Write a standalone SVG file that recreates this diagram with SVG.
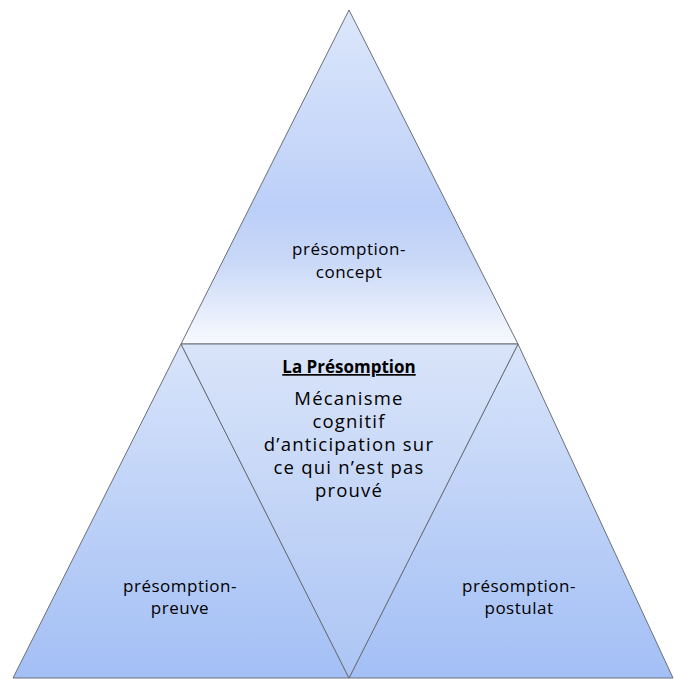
<svg xmlns="http://www.w3.org/2000/svg" width="674" height="679" viewBox="0 0 674 679">
<style>
.tri{stroke:#6a6f78;stroke-width:1;stroke-linejoin:miter}
.t{font-family:"Open Sans","Liberation Sans",sans-serif;font-size:17px;fill:#000;text-anchor:middle;letter-spacing:0.5px}
.m{font-size:18.5px;letter-spacing:1.2px}
.h{font-weight:bold;text-decoration:underline;letter-spacing:0}
</style>
<defs>
<linearGradient id="gTop" x1="0" y1="10" x2="0" y2="344" gradientUnits="userSpaceOnUse">
<stop offset="0" stop-color="#dce7fb"/>
<stop offset="0.6" stop-color="#bccff8"/>
<stop offset="0.75" stop-color="#c9d8f8"/>
<stop offset="1" stop-color="#f8fafe"/>
</linearGradient>
<linearGradient id="gBot" x1="0" y1="344" x2="0" y2="678" gradientUnits="userSpaceOnUse">
<stop offset="0" stop-color="#d8e4fa"/>
<stop offset="1" stop-color="#a3bff5"/>
</linearGradient>
<linearGradient id="gMid" x1="0" y1="344" x2="0" y2="678" gradientUnits="userSpaceOnUse">
<stop offset="0" stop-color="#d9e4f9"/>
<stop offset="1" stop-color="#acc5f4"/>
</linearGradient>
</defs>
<g id="node-concept">
<polygon class="tri" points="349,10 181,344 518,344" fill="url(#gTop)"/>
<text class="t" x="349" y="255">présomption-</text>
<text class="t" x="349" y="278">concept</text>
</g>
<g id="node-preuve">
<polygon class="tri" points="181,344 13,678 349,678" fill="url(#gBot)"/>
<text class="t" x="180" y="592">présomption-</text>
<text class="t" x="180" y="614">preuve</text>
</g>
<g id="node-postulat">
<polygon class="tri" points="518,344 349,678 673,678" fill="url(#gBot)"/>
<text class="t" x="519" y="592">présomption-</text>
<text class="t" x="519" y="614">postulat</text>
</g>
<g id="node-presomption">
<polygon class="tri" points="181,344 518,344 349,678" fill="url(#gMid)"/>
<text class="t h" x="349" y="373">La Présomption</text>
<text class="t m" x="349" y="405">Mécanisme</text>
<text class="t m" x="349" y="428">cognitif</text>
<text class="t m" x="349" y="451">d’anticipation sur</text>
<text class="t m" x="349" y="474">ce qui n’est pas</text>
<text class="t m" x="349" y="497">prouvé</text>
</g>
<g id="connectors"/>
</svg>
